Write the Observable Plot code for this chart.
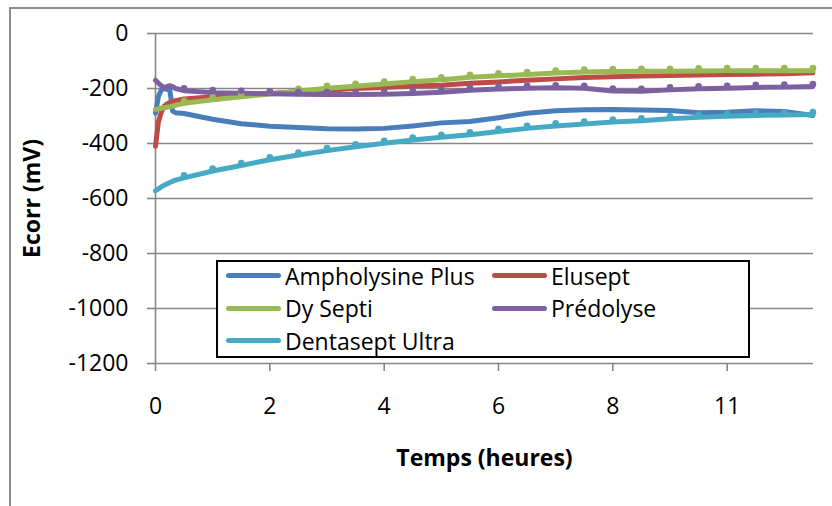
<!DOCTYPE html>
<html>
<head>
<meta charset="utf-8">
<script src="https://cdn.jsdelivr.net/npm/d3@7"></script>
<script src="https://cdn.jsdelivr.net/npm/@observablehq/plot@0.6"></script>
<style>
  html, body { margin: 0; padding: 0; background: #fff; }
  body { width: 832px; height: 506px; overflow: hidden; position: relative; font-family: "Open Sans", sans-serif; }
  #frame { position: absolute; left: 9px; top: 7px; width: 900px; height: 600px; border-left: 2px solid #8c8c8c; border-top: 2px solid #8c8c8c; box-sizing: border-box; }
  #chart { position: absolute; left: 0; top: 0; }
  #chart g[aria-label="x-axis label"] text, #chart g[aria-label="y-axis label"] text,
  #chart g[aria-label="x-axis label"], #chart g[aria-label="y-axis label"] { font-weight: 700; }
  #legend { position: absolute; left: 216px; top: 260px; width: 534px; height: 98px; box-sizing: border-box;
            border: 2px solid #000; background: #fff; display: grid; grid-template-columns: 266px 266px;
            grid-auto-rows: 32.5px; margin-top: -0px; padding-top: 0; font-size: 23px; color: #000; }
  #legend .item { display: flex; align-items: center; margin-top: -2.5px; height: 32.5px; }
  #legend .sw { width: 55px; height: 5px; border-radius: 3px; margin-left: 8px; margin-right: 4px; flex: none; }
  #legend .item.c2 .sw { margin-left: 8px; }
</style>
</head>
<body>
<div id="frame"></div>
<div id="chart"></div>
<div id="legend"></div>
<script>
// ---- data ----
const hours = [0, 0.05, 0.1, 0.15, 0.2, 0.25, 0.3, 0.35, 0.5, 1, 1.5, 2, 2.5, 3, 3.5, 4, 4.5, 5, 5.5, 6, 6.5, 7, 7.5, 8, 8.5, 9, 9.5, 10, 10.5, 11, 11.5];
const ampholysinePlus = [-290, -230, -205, -200, -203, -205, -282, -288, -291, -312, -328, -337, -342, -346, -347, -345, -336, -325, -320, -306, -290, -281, -277, -276, -278, -280, -288, -286, -281, -284, -298];
const elusept = [-410, -322, -287, -265, -256, -251, -247, -244, -238, -230, -224, -218, -212, -206, -200, -196, -191, -188, -181, -176, -170, -165, -160, -157, -155, -153, -151, -149, -148, -146, -143];
const dySepti = [-276, -274, -272, -270, -268, -266, -264, -261, -254, -241, -230, -220, -210, -199, -192, -184, -175, -168, -159, -154, -149, -144, -140, -138, -137, -137, -136, -135, -135, -135, -135];
const predolyse = [-170, -180, -190, -196, -193, -190, -193, -200, -208, -215, -217, -219, -221, -222, -222, -221, -218, -214, -206, -202, -199, -197, -199, -209, -210, -205, -201, -199, -196, -195, -193];
const dentaseptUltra = [-572, -565, -558, -552, -547, -542, -537, -533, -525, -500, -480, -459, -442, -426, -412, -399, -387, -377, -368, -356, -345, -336, -329, -322, -317, -310, -305, -301, -298, -296, -295];

const seriesNames = ["Ampholysine Plus", "Elusept", "Dy Septi", "Prédolyse", "Dentasept Ultra"];
const seriesValues = [ampholysinePlus, elusept, dySepti, predolyse, dentaseptUltra];
const seriesColors = ["#4A7EBB", "#BE4B48", "#98B954", "#7D60A0", "#46AAC5"];
const markedSeries = ["Dy Septi", "Prédolyse", "Dentasept Ultra"];

const yTicks = [0, -200, -400, -600, -800, -1000, -1200];
const yGrid = [0, -200, -400, -600, -800, -1000];
const xTickPositions = [0, 2, 4, 6, 8, 10];
const xTickLabels = ["0", "2", "4", "6", "8", "11"];

// ---- build table ----
const rows = [];
seriesNames.forEach((name, s) => {
  hours.forEach((t, i) => rows.push({series: name, t, v: seriesValues[s][i]}));
});
const markerRows = rows.filter(d => markedSeries.includes(d.series) && d.t >= 0.5 && Number.isInteger(d.t * 2));

const gray = "#868686";
const chart = Plot.plot({
  width: 832,
  height: 506,
  marginLeft: 155,
  marginTop: 33,
  marginRight: 19,
  marginBottom: 143,
  style: {fontFamily: "'Open Sans', sans-serif", fontSize: "23px", color: "#000", background: "transparent", overflow: "visible"},
  x: {domain: [0, 11.51]},
  y: {domain: [-1200, 0]},
  color: {domain: seriesNames, range: seriesColors},
  marks: [
    Plot.gridY(yGrid, {stroke: gray, strokeOpacity: 1, strokeWidth: 1.6}),
    Plot.ruleY([-1200], {stroke: gray, strokeWidth: 1.6}),
    Plot.ruleX([0], {stroke: gray, strokeWidth: 1.6}),
    Plot.axisY({ticks: yTicks, tickSize: 8, tickPadding: 19, stroke: gray, strokeWidth: 1.6,
      tickFormat: d => String(d), label: "Ecorr (mV)", labelAnchor: "center", labelOffset: 132, labelArrow: "none"}),
    Plot.axisX({ticks: xTickPositions, tickSize: 8, tickPadding: 26, stroke: gray, strokeWidth: 1.6,
      tickFormat: d => xTickLabels[xTickPositions.indexOf(d)], label: "Temps (heures)", labelAnchor: "center", labelOffset: 102, labelArrow: "none"}),
    Plot.line(rows, {x: "t", y: "v", z: "series", stroke: "series", strokeWidth: 5, strokeLinejoin: "round", strokeLinecap: "round"}),
    Plot.dot(markerRows, {x: "t", y: "v", fill: "series", r: 3.3, dy: -2.5})
  ]
});
document.getElementById("chart").appendChild(chart);

// ---- legend ----
const legend = document.getElementById("legend");
seriesNames.forEach((name, i) => {
  const item = document.createElement("div");
  item.className = "item" + (i % 2 ? " c2" : "");
  const sw = document.createElement("span");
  sw.className = "sw";
  sw.style.background = seriesColors[i];
  const label = document.createElement("span");
  label.textContent = name;
  item.appendChild(sw);
  item.appendChild(label);
  legend.appendChild(item);
});
</script>
</body>
</html>
